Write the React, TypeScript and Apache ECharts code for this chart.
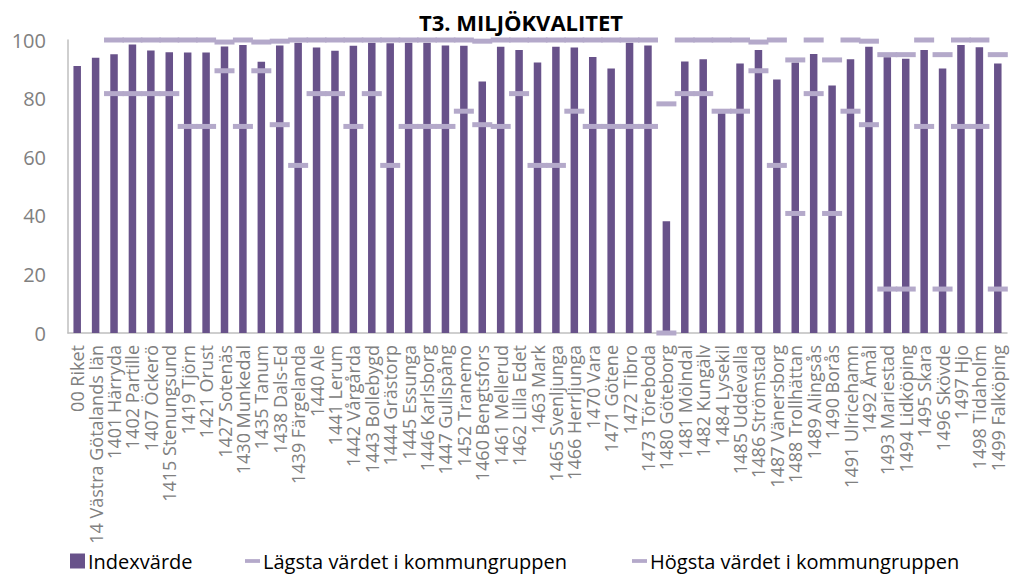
import React, { useEffect, useRef } from "react";
import * as echarts from "echarts";

const categories = [
  "00 Riket", "14 Västra Götalands län", "1401 Härryda", "1402 Partille", "1407 Öckerö",
  "1415 Stenungsund", "1419 Tjörn", "1421 Orust", "1427 Sotenäs", "1430 Munkedal",
  "1435 Tanum", "1438 Dals-Ed", "1439 Färgelanda", "1440 Ale", "1441 Lerum",
  "1442 Vårgårda", "1443 Bollebygd", "1444 Grästorp", "1445 Essunga", "1446 Karlsborg",
  "1447 Gullspång", "1452 Tranemo", "1460 Bengtsfors", "1461 Mellerud", "1462 Lilla Edet",
  "1463 Mark", "1465 Svenljunga", "1466 Herrljunga", "1470 Vara", "1471 Götene",
  "1472 Tibro", "1473 Töreboda", "1480 Göteborg", "1481 Mölndal", "1482 Kungälv",
  "1484 Lysekil", "1485 Uddevalla", "1486 Strömstad", "1487 Vänersborg", "1488 Trollhättan",
  "1489 Alingsås", "1490 Borås", "1491 Ulricehamn", "1492 Åmål", "1493 Mariestad",
  "1494 Lidköping", "1495 Skara", "1496 Skövde", "1497 Hjo", "1498 Tidaholm",
  "1499 Falköping",
];

const indexValues = [
  91.1, 93.9, 95.1, 98.5, 96.4, 95.8, 95.7, 95.7, 97.8, 98.3,
  92.6, 98.1, 99.1, 97.4, 96.3, 98.0, 99.1, 98.9, 99.1, 99.1,
  98.1, 98.0, 85.8, 97.7, 96.6, 92.3, 97.7, 97.4, 94.2, 90.3,
  99.1, 98.1, 38.1, 92.7, 93.4, 75.0, 92.0, 96.6, 86.5, 92.3,
  95.2, 84.5, 93.4, 97.7, 94.1, 93.6, 96.6, 90.3, 98.3, 97.5,
  92.0,
];

const lowestValues = [
  null, null, 81.7, 81.7, 81.7, 81.7, 70.5, 70.5, 89.5, 70.5,
  89.5, 71.1, 57.2, 81.7, 81.7, 70.5, 81.7, 57.2, 70.5, 70.5,
  70.5, 75.7, 71.1, 70.5, 81.7, 57.2, 57.2, 75.7, 70.5, 70.5,
  70.5, 70.5, 0, 81.7, 81.7, 75.7, 75.7, 89.5, 57.2, 40.8,
  81.7, 40.8, 75.7, 71.1, 15.0, 15.0, 70.5, 15.0, 70.5, 70.5,
  15.0,
];

const highestValues = [
  null, null, 100, 100, 100, 100, 100, 100, 99.3, 100,
  99.3, 99.6, 100, 100, 100, 100, 100, 100, 100, 100,
  100, 100, 99.6, 100, 100, 100, 100, 100, 100, 100,
  100, 100, 78.2, 100, 100, 100, 100, 99.3, 100, 93.2,
  100, 93.2, 100, 99.6, 95.0, 95.0, 100, 95.0, 100, 100,
  95.0,
];

const yTicks = { min: 0, max: 100, interval: 20 };

const BAR_COLOR = "#68528A";
const MARK_COLOR = "#B4A9CA";
const FONT = "'Open Sans', 'Liberation Sans', Arial, sans-serif";
const DASH = "path://M0,0H20V5H0Z";

export default function App() {
  const ref = useRef<HTMLDivElement>(null);

  useEffect(() => {
    document.body.style.margin = "0";
    if (!ref.current) return;
    const chart = echarts.init(ref.current, undefined, { renderer: "svg" });
    const legendBase = {
      top: 551,
      itemWidth: 15,
      itemHeight: 15,
      itemGap: 0,
      padding: 0,
      symbolKeepAspect: true,
      textStyle: { fontSize: 20, color: "#000", fontFamily: FONT, padding: [0, 0, 0, -2] },
    };
    chart.setOption({
      animation: false,
      textStyle: { fontFamily: FONT },
      title: {
        text: "T3. MILJÖKVALITET",
        left: 516,
        textAlign: "center",
        top: 6,
        textStyle: { fontSize: 22, fontWeight: "bold", color: "#000", fontFamily: FONT },
      },
      grid: { left: 68, right: 6, top: 40, bottom: 245, containLabel: false },
      legend: [
        { ...legendBase, left: 70, data: [{ name: "Indexvärde", icon: "rect" }] },
        { ...legendBase, left: 245, data: [{ name: "Lägsta värdet i kommungruppen", icon: DASH }] },
        { ...legendBase, left: 632, data: [{ name: "Högsta värdet i kommungruppen", icon: DASH }] },
      ],
      xAxis: {
        type: "category",
        data: categories,
        axisLine: { show: true, lineStyle: { color: "#BFBFBF", width: 1.5 } },
        axisTick: { show: false },
        axisLabel: {
          interval: 0,
          rotate: 90,
          fontSize: 18,
          color: "#808080",
          margin: 12,
          fontFamily: FONT,
        },
      },
      yAxis: {
        type: "value",
        min: yTicks.min,
        max: yTicks.max,
        interval: yTicks.interval,
        axisLine: { show: true, lineStyle: { color: "#BFBFBF", width: 1.5 } },
        axisTick: { show: false },
        splitLine: { show: false },
        axisLabel: { fontSize: 20, color: "#808080", margin: 22, fontFamily: FONT },
      },
      series: [
        {
          name: "Indexvärde",
          type: "bar",
          data: indexValues,
          barWidth: 7.5,
          itemStyle: { color: BAR_COLOR },
        },
        {
          name: "Lägsta värdet i kommungruppen",
          type: "scatter",
          data: lowestValues,
          symbol: "rect",
          symbolSize: [20, 5],
          itemStyle: { color: MARK_COLOR, opacity: 1 },
          z: 3,
        },
        {
          name: "Högsta värdet i kommungruppen",
          type: "scatter",
          data: highestValues,
          symbol: "rect",
          symbolSize: [20, 5],
          itemStyle: { color: MARK_COLOR, opacity: 1 },
          z: 3,
        },
      ],
    });
    return () => chart.dispose();
  }, []);

  return <div ref={ref} style={{ width: 1013, height: 578 }} />;
}
